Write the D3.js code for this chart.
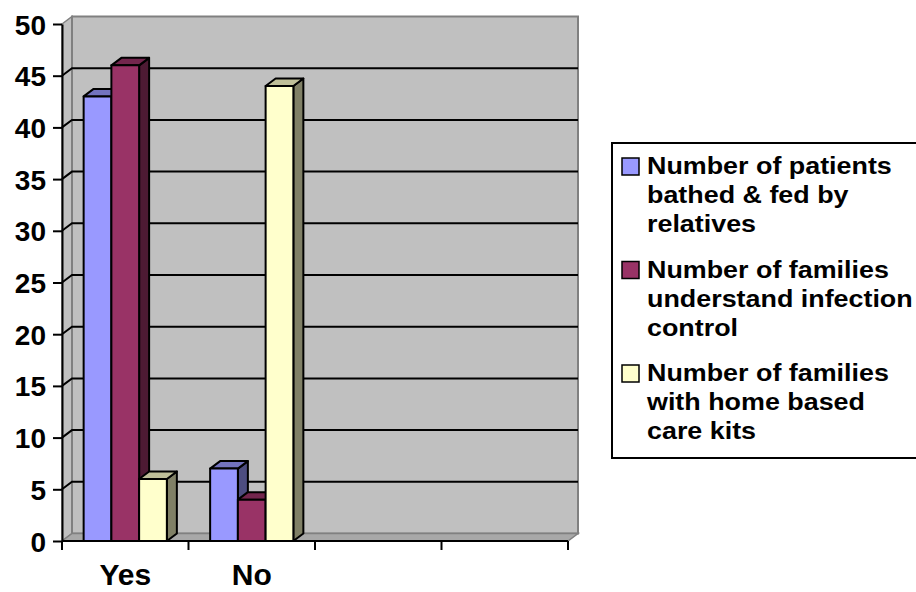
<!DOCTYPE html>
<html>
<head>
<meta charset="utf-8">
<script src="https://cdn.jsdelivr.net/npm/d3@7"></script>
<style>
  html, body { margin: 0; padding: 0; background: #ffffff; }
  svg { display: block; }
  text { font-family: "Liberation Sans", Arial, Helvetica, sans-serif; font-weight: bold; fill: #000; }
</style>
</head>
<body>
<svg id="chart" width="916" height="592"></svg>
<script>
// Category slots on the x axis (two labelled, two left blank)
const categories = ["Yes", "No", " ", "  "];
const seriesNames = [
  "Number of patients bathed & fed by relatives",
  "Number of families understand infection control",
  "Number of families with home based care kits"
];
// Values per series, in category order (Yes, No)
const bathedFed = [43, 7];
const understandInfection = [46, 4];
const homeCareKits = [6, 44];
const yTicks = [0, 5, 10, 15, 20, 25, 30, 35, 40, 45, 50];
const legendLines = [
  ["Number of patients", "bathed & fed by", "relatives"],
  ["Number of families", "understand infection", "control"],
  ["Number of families", "with home based", "care kits"]
];

const seriesValues = [bathedFed, understandInfection, homeCareKits];
const fronts = ["#9999ff", "#993366", "#ffffcc"];

(function draw() {
  const svg = d3.select("#chart");
  const plotL = 62, plotR = 568, plotT = 24, plotB = 541;
  const dx = 10, dy = -7.5;   // depth offset of the 3-D box

  const y = d3.scaleLinear().domain([0, 50]).range([plotB, plotT]);
  const x0 = d3.scaleBand().domain(categories).range([plotL, plotR]);
  const x1 = d3.scaleBand().domain(seriesNames).range([0, x0.bandwidth()]).paddingOuter(0.78);
  const color = d3.scaleOrdinal().domain(seriesNames).range(fronts);
  const shade = (c, k) => { const r = d3.rgb(c); return d3.rgb(r.r * k, r.g * k, r.b * k).formatHex(); };

  const wallFill = "#c0c0c0", wallEdge = "#808080";

  // side wall
  svg.append("path")
    .attr("d", `M${plotL},${y(50)} L${plotL + dx},${y(50) + dy} L${plotL + dx},${plotB + dy} L${plotL},${plotB} Z`)
    .attr("fill", wallFill).attr("stroke", wallEdge).attr("stroke-width", 1.5);

  // back wall
  svg.append("rect")
    .attr("x", plotL + dx).attr("y", y(50) + dy)
    .attr("width", plotR - plotL).attr("height", plotB - y(50))
    .attr("fill", wallFill).attr("stroke", wallEdge).attr("stroke-width", 2);

  // floor
  svg.append("path")
    .attr("d", `M${plotL},${plotB} L${plotR},${plotB} L${plotR + dx},${plotB + dy} L${plotL + dx},${plotB + dy} Z`)
    .attr("fill", "#a8a8a8").attr("stroke", wallEdge).attr("stroke-width", 1.5);

  // gridlines across side wall and back wall
  svg.append("g").selectAll("path")
    .data(yTicks.filter(v => v > 0 && v < 50))
    .join("path")
    .attr("d", v => `M${plotL},${y(v)} L${plotL + dx},${y(v) + dy} H${plotR + dx}`)
    .attr("fill", "none").attr("stroke", "#000").attr("stroke-width", 2);

  // 3-D columns
  const bars = [];
  categories.forEach((c, ci) => {
    seriesNames.forEach((s, si) => {
      const v = seriesValues[si][ci];
      if (v !== undefined) bars.push({ c, s, v });
    });
  });

  const barG = svg.append("g");
  bars.forEach(d => {
    const xl = x0(d.c) + x1(d.s), w = x1.bandwidth();
    const yt = y(d.v), yb = y(0);
    const base = color(d.s);
    const g = barG.append("g").attr("stroke", "#000").attr("stroke-width", 2).attr("stroke-linejoin", "round");
    g.append("path") // right side
      .attr("d", `M${xl + w},${yt} L${xl + w + dx},${yt + dy} L${xl + w + dx},${yb + dy} L${xl + w},${yb} Z`)
      .attr("fill", shade(base, 0.5));
    g.append("path") // top
      .attr("d", `M${xl},${yt} L${xl + dx},${yt + dy} L${xl + w + dx},${yt + dy} L${xl + w},${yt} Z`)
      .attr("fill", shade(base, 0.75));
    g.append("rect") // front
      .attr("x", xl).attr("y", yt).attr("width", w).attr("height", yb - yt)
      .attr("fill", base);
  });

  // y axis
  const yAxis = svg.append("g")
    .attr("transform", `translate(${plotL},0)`)
    .call(d3.axisLeft(y).tickValues(yTicks).tickSize(9).tickSizeOuter(0).tickPadding(7));
  yAxis.attr("font-family", null).attr("font-size", null);
  yAxis.select(".domain").attr("stroke", "#000").attr("stroke-width", 2);
  yAxis.selectAll(".tick line").attr("stroke", "#000").attr("stroke-width", 2);
  yAxis.selectAll(".tick text")
    .attr("font-size", 28).attr("fill", "#000")
    .attr("dy", "0.36em");

  // x axis line and slot ticks
  const boundaries = categories.map(c => x0(c)).concat([plotR]);
  const xAxis = svg.append("g");
  xAxis.append("line")
    .attr("x1", plotL).attr("x2", plotR).attr("y1", plotB).attr("y2", plotB)
    .attr("stroke", "#000").attr("stroke-width", 2);
  xAxis.selectAll("line.tick").data(boundaries).join("line")
    .attr("class", "tick")
    .attr("x1", d => d).attr("x2", d => d)
    .attr("y1", plotB).attr("y2", plotB + 9)
    .attr("stroke", "#000").attr("stroke-width", 2);
  xAxis.selectAll("text").data(categories).join("text")
    .attr("x", d => x0(d) + x0.bandwidth() / 2)
    .attr("y", 585)
    .attr("text-anchor", "middle")
    .attr("font-size", 30)
    .text(d => d.trim());

  // legend
  const legend = svg.append("g");
  legend.append("rect")
    .attr("x", 612).attr("y", 143).attr("width", 320).attr("height", 315)
    .attr("fill", "#fff").attr("stroke", "#000").attr("stroke-width", 2);
  const firstBaseline = 174, groupStep = 103.5, lineStep = 29;
  seriesNames.forEach((s, i) => {
    const b0 = firstBaseline + i * groupStep;
    legend.append("rect")
      .attr("x", 622).attr("y", b0 - 16).attr("width", 17).attr("height", 17)
      .attr("fill", color(s)).attr("stroke", "#000").attr("stroke-width", 1.5);
    legendLines[i].forEach((t, j) => {
      legend.append("text")
        .attr("transform", `translate(647,${b0 + j * lineStep}) scale(1.12,1)`)
        .attr("font-size", 24)
        .text(t);
    });
  });
})();
</script>
</body>
</html>
